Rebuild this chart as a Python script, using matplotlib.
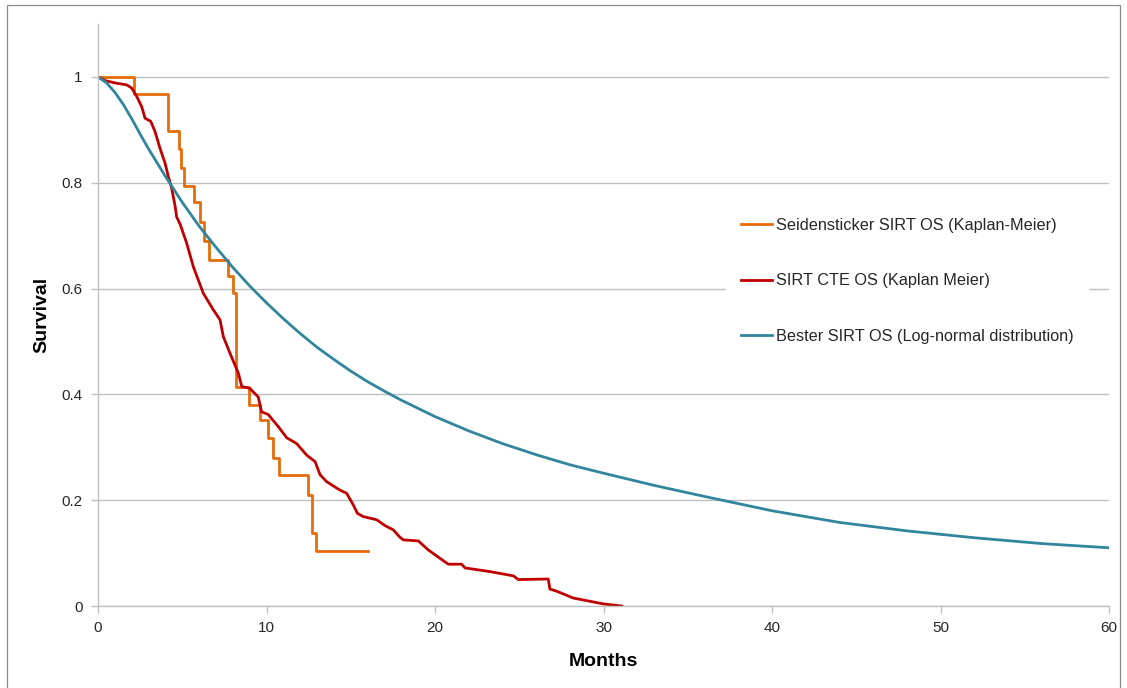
import matplotlib.pyplot as plt
from matplotlib.patches import Rectangle

# Seidensticker SIRT OS (Kaplan-Meier), step curve
seid_t = [0, 2.14, 4.17, 4.8, 4.95, 5.1, 5.72, 6.05, 6.3, 6.6, 7.74, 8.03, 8.19,
          8.96, 9.6, 10.1, 10.4, 10.76, 12.48, 12.68, 12.94, 16.04]
seid_s = [1.0, 0.968, 0.898, 0.864, 0.828, 0.794, 0.764, 0.726, 0.69, 0.654, 0.624,
          0.592, 0.414, 0.38, 0.352, 0.318, 0.28, 0.248, 0.21, 0.138, 0.104, 0.104]

# SIRT CTE OS (Kaplan Meier)
cte_t = [0, 0.42, 1.11, 1.70, 2.0, 2.30, 2.59, 2.79, 3.13, 3.38, 3.68, 3.98, 4.17,
         4.37, 4.57, 4.67, 4.87, 5.26, 5.66, 6.25, 6.84, 7.24, 7.44, 7.83, 8.33,
         8.53, 9.02, 9.51, 9.71, 10.1, 10.7, 11.2, 11.79, 12.39, 12.88, 13.18,
         13.57, 14.36, 14.76, 15.15, 15.4, 15.74, 16.54, 17.03, 17.52, 17.92, 18.12,
         19.01, 19.6, 20.3, 20.79, 21.58, 21.78, 23.26, 24.65, 24.94, 26.72, 26.82,
         27.22, 28.21, 29.99, 31.08]
cte_s = [1.0, 0.993, 0.988, 0.985, 0.979, 0.963, 0.944, 0.922, 0.916, 0.897, 0.865,
         0.837, 0.812, 0.79, 0.757, 0.735, 0.722, 0.686, 0.641, 0.591, 0.56, 0.541,
         0.509, 0.478, 0.44, 0.415, 0.411, 0.395, 0.367, 0.362, 0.339, 0.318,
         0.307, 0.285, 0.273, 0.248, 0.235, 0.219, 0.213, 0.191, 0.175, 0.169, 0.163,
         0.152, 0.144, 0.13, 0.125, 0.123, 0.106, 0.09, 0.079, 0.079, 0.072, 0.065,
         0.057, 0.05, 0.051, 0.032, 0.028, 0.015, 0.004, 0.0]

# Bester SIRT OS (Log-normal distribution)
best_t = [0, 0.5, 1, 1.5, 2, 2.5, 3, 4, 5, 6, 7, 8, 9, 10, 11, 12, 13, 14, 15, 16,
          17, 18, 20, 22, 24, 26, 28, 30, 33, 36, 40, 44, 48, 52, 56, 60]
best_s = [1.0, 0.989, 0.971, 0.948, 0.921, 0.892, 0.864, 0.812, 0.763, 0.718, 0.678,
          0.640, 0.605, 0.573, 0.543, 0.515, 0.489, 0.466, 0.444, 0.424, 0.406, 0.389,
          0.358, 0.331, 0.307, 0.286, 0.267, 0.251, 0.228, 0.207, 0.180, 0.158, 0.142,
          0.129, 0.118, 0.110]

x_ticks = [0, 10, 20, 30, 40, 50, 60]
y_ticks = [0, 0.2, 0.4, 0.6, 0.8, 1.0]
y_labels = ['0', '0.2', '0.4', '0.6', '0.8', '1']

plt.rcParams['font.family'] = ['Liberation Sans', 'DejaVu Sans']

fig = plt.figure(figsize=(11.27, 6.88), dpi=100)
ax = fig.add_axes([98 / 1127, 1 - 606 / 688, 1011 / 1127, 582 / 688])

# light border round the whole chart
fig.patches.append(Rectangle((7 / 1127, -0.02), 1113 / 1127, 1 - 5 / 688 + 0.02,
                             transform=fig.transFigure, fill=False,
                             edgecolor='#8c8c8c', linewidth=0.9))

ax.step(seid_t, seid_s, where='post', color='#E46C0A', linewidth=2.0,
        label='Seidensticker SIRT OS (Kaplan-Meier)')
ax.plot(cte_t, cte_s, color='#C00000', linewidth=2.0,
        label='SIRT CTE OS (Kaplan Meier)')
ax.plot(best_t, best_s, color='#31859C', linewidth=2.0,
        label='Bester SIRT OS (Log-normal distribution)')

ax.set_xlim(0, 60)
ax.set_ylim(0, 1.1)
ax.set_xticks(x_ticks)
ax.set_yticks(y_ticks)
ax.set_yticklabels(y_labels)
ax.grid(axis='y', color='#BFBFBF', linewidth=1.0)
ax.set_axisbelow(True)

for side in ['top', 'right']:
    ax.spines[side].set_visible(False)
for side in ['left', 'bottom']:
    ax.spines[side].set_color('#BFBFBF')
    ax.spines[side].set_linewidth(1.0)
ax.tick_params(axis='both', colors='#BFBFBF', length=5, width=1.0,
               labelcolor='#262626', labelsize=11)
ax.tick_params(axis='x', pad=6)
ax.tick_params(axis='y', pad=6)

ax.set_xlabel('Months', fontsize=14, fontweight='bold', labelpad=13)
ax.set_ylabel('Survival', fontsize=14, fontweight='bold', labelpad=8)

leg = ax.legend(loc='center left', bbox_to_anchor=(0.613, 0.5585), frameon=True,
                fontsize=11.7, handlelength=1.9, handletextpad=0.25,
                labelspacing=2.5, borderpad=0.92, fancybox=False)
leg.get_frame().set_facecolor('white')
leg.get_frame().set_edgecolor('white')
leg.get_frame().set_alpha(1.0)
for txt in leg.get_texts():
    txt.set_color('#262626')

fig.savefig('out.png', dpi=100)
